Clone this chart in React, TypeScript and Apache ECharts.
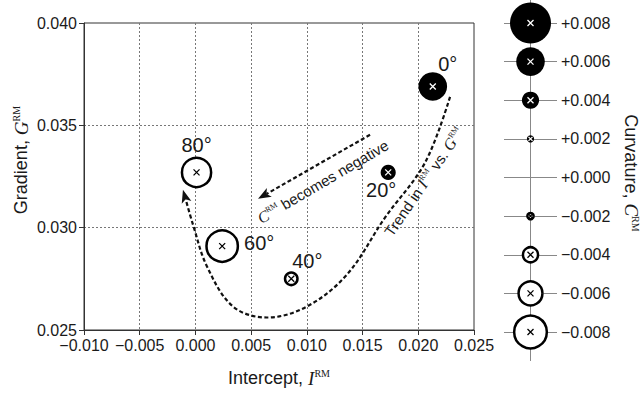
import React, { useEffect, useRef } from 'react';
import * as echarts from 'echarts';

// ---------------- data ----------------
const angles = ['0°', '20°', '40°', '60°', '80°'];
const intercepts = [0.0213, 0.0173, 0.0086, 0.0024, 0.0001];
const gradients = [0.0369, 0.0327, 0.0275, 0.0291, 0.0327];
const curvatures = [0.006, 0.0036, -0.0034, -0.0077, -0.0072];

const legendCurvatures = [0.008, 0.006, 0.004, 0.002, 0, -0.002, -0.004, -0.006, -0.008];
const legendLineSpan = [0.0092, -0.0095];

const xMin = -0.01, xMax = 0.025, xStep = 0.005;
const yMin = 0.025, yMax = 0.04, yStep = 0.005;

// annotation paths (data coordinates)
const trendPath = [
  [0.02285, 0.03639], [0.0206, 0.03317], [0.01701, 0.03049], [0.0136, 0.02771],
  [0.01001, 0.02615], [0.00642, 0.02561], [0.00337, 0.02615], [0.00104, 0.0281],
  [-0.00022, 0.03015], [-0.00112, 0.03185],
];
const negArrow = [[0.01567, 0.03454], [0.00562, 0.03141]];
const negTextAt = [0.01145, 0.03225];
const trendTextAt = [0.02051, 0.03224];

// ---------------- styles ----------------
const FONT = '"Liberation Sans", Arial, sans-serif';
const SERIF = '"Liberation Serif", "Times New Roman", serif';
const INK = '#1a1a1a';
const labelOffsets = [[15, -22], [-7, 18], [16, -18], [37, -3], [0, -27]];
const CROSS = 'path://M0,0L10,10M10,0L0,10';

const sizeOf = (c: number) =>
  c > 0 ? 41 * Math.pow(c / 0.008, 1.25) : c < 0 ? 4400 * -c - 2.5 : 0;
const crossSize = (c: number) => (Math.abs(c) <= 0.0025 ? 4 : 6);
const circleStyle = (c: number) =>
  c > 0
    ? { color: '#000', borderWidth: 0, opacity: 1 }
    : { color: '#fff', borderColor: '#000', borderWidth: 2.5, opacity: 1 };
const crossStyle = (c: number) => ({
  color: 'rgba(0,0,0,0)', borderColor: c > 0 ? '#fff' : '#000', borderWidth: 1.3, opacity: 1,
});

const fmtPlain = (v: number) => (Math.abs(v) < 1e-9 ? '0.000' : (v < 0 ? '\u2212' : '') + Math.abs(v).toFixed(3));
const fmtSigned = (v: number) => (Math.abs(v) < 1e-9 ? '+0.000' : (v < 0 ? '\u2212' : '+') + Math.abs(v).toFixed(3));

const richBase = (size: number) => ({
  a: { fontSize: size, fontFamily: FONT, fill: INK },
  i: { fontSize: size + 1, fontFamily: SERIF, fontStyle: 'italic', fill: INK },
  s: { fontSize: Math.round(size * 0.55), fontFamily: SERIF, fill: INK, verticalAlign: 'top' },
});

function arrowHead(tip: number[], from: number[], len = 13, w = 5) {
  const ang = Math.atan2(tip[1] - from[1], tip[0] - from[0]);
  const dx = Math.cos(ang), dy = Math.sin(ang);
  const px = -dy, py = dx;
  const bx = tip[0] - len * dx, by = tip[1] - len * dy;
  const nx = tip[0] - len * 0.75 * dx, ny = tip[1] - len * 0.75 * dy;
  return {
    points: [tip, [bx + w * px, by + w * py], [nx, ny], [bx - w * px, by - w * py]],
    base: [nx, ny],
  };
}

function buildOption() {
  const pointData = angles.map((a, i) => ({
    name: a,
    value: [intercepts[i], gradients[i], curvatures[i]],
    itemStyle: circleStyle(curvatures[i]),
    label: { offset: labelOffsets[i] },
  }));
  const crossData = angles.map((a, i) => ({
    name: a,
    value: [intercepts[i], gradients[i], curvatures[i]],
    itemStyle: crossStyle(curvatures[i]),
  }));
  const legendData = legendCurvatures.map((c) => ({
    value: [0, c, c],
    itemStyle: circleStyle(c),
  }));
  const legendCross = legendCurvatures
    .filter((c) => c !== 0)
    .map((c) => ({ value: [0, c, c], itemStyle: crossStyle(c) }));

  const dash = { stroke: '#111', lineWidth: 2.2, lineDash: [4, 2.5], fill: null };

  return {
    animation: false,
    backgroundColor: '#fff',
    grid: [
      { left: 84, top: 23, width: 390, height: 307, show: true, borderColor: '#333', borderWidth: 1 },
      { left: 504, top: 23, width: 53, height: 309, show: false },
    ],
    xAxis: [
      {
        gridIndex: 0, type: 'value', min: xMin, max: xMax, interval: xStep,
        axisLine: { show: true, onZero: false, lineStyle: { color: '#333', width: 1 } },
        axisTick: { show: true, length: 5, lineStyle: { color: '#333' } },
        axisLabel: { formatter: fmtPlain, fontSize: 16, color: INK, fontFamily: FONT, margin: 7, showMinLabel: true, showMaxLabel: true },
        splitLine: { show: true, showMinLine: false, showMaxLine: false, lineStyle: { color: '#777', type: [2, 2], width: 1 } },
      },
      { gridIndex: 1, type: 'value', min: -1, max: 1, show: false },
    ],
    yAxis: [
      {
        gridIndex: 0, type: 'value', min: yMin, max: yMax, interval: yStep,
        axisLine: { show: true, onZero: false, lineStyle: { color: '#333', width: 1 } },
        axisTick: { show: true, length: 5, lineStyle: { color: '#333' } },
        axisLabel: { formatter: fmtPlain, fontSize: 16, color: INK, fontFamily: FONT, margin: 7, showMinLabel: true, showMaxLabel: true },
        splitLine: { show: true, showMinLine: false, showMaxLine: false, lineStyle: { color: '#777', type: [2, 2], width: 1 } },
      },
      {
        gridIndex: 1, type: 'value', min: -0.008, max: 0.008, interval: 0.002, position: 'right',
        axisLine: { show: false }, axisTick: { show: false },
        axisLabel: { formatter: fmtSigned, fontSize: 16, color: INK, fontFamily: FONT, margin: 4, showMinLabel: true, showMaxLabel: true },
        splitLine: { show: true, lineStyle: { color: '#888', width: 1, type: 'solid' } },
      },
    ],
    series: [
      {
        type: 'custom', xAxisIndex: 0, yAxisIndex: 0, silent: true, z: 2,
        data: [[0.01, 0.03]],
        renderItem: (_p: any, api: any) => {
          const pts = trendPath.map((p) => api.coord(p));
          const tip = pts[pts.length - 1];
          const h1 = arrowHead(tip, pts[pts.length - 2]);
          const curve = pts.slice(0, -1).concat([h1.base]);
          const s = api.coord(negArrow[0]);
          const e = api.coord(negArrow[1]);
          const h2 = arrowHead(e, s);
          const t1 = api.coord(negTextAt);
          const t2 = api.coord(trendTextAt);
          return {
            type: 'group',
            children: [
              { type: 'polyline', shape: { points: curve, smooth: 0.35 }, style: dash },
              { type: 'polygon', shape: { points: h1.points }, style: { fill: '#111' } },
              { type: 'line', shape: { x1: s[0], y1: s[1], x2: h2.base[0], y2: h2.base[1] }, style: dash },
              { type: 'polygon', shape: { points: h2.points }, style: { fill: '#111' } },
              {
                type: 'text', x: t1[0], y: t1[1], rotation: (30.5 * Math.PI) / 180,
                style: {
                  text: '{i|C}{s|RM}{a| becomes negative}', rich: richBase(15),
                  align: 'center', verticalAlign: 'middle', fill: INK,
                },
              },
              {
                type: 'text', x: t2[0], y: t2[1], rotation: (55.5 * Math.PI) / 180,
                style: {
                  text: '{a|Trend in }{i|I}{s|RM}{a| vs. }{i|G}{s|RM}', rich: richBase(15),
                  align: 'center', verticalAlign: 'middle', fill: INK,
                },
              },
            ],
          };
        },
      },
      {
        type: 'scatter', xAxisIndex: 0, yAxisIndex: 0, z: 3, silent: true,
        symbol: 'circle', symbolSize: (v: number[]) => sizeOf(v[2]),
        itemStyle: { opacity: 1 },
        data: pointData,
        label: { show: true, position: 'inside', formatter: '{b}', fontSize: 20, color: INK, opacity: 1, fontFamily: FONT },
      },
      {
        type: 'scatter', xAxisIndex: 0, yAxisIndex: 0, z: 4, silent: true,
        symbol: CROSS, symbolSize: (v: number[]) => crossSize(v[2]),
        itemStyle: { opacity: 1 },
        data: crossData,
      },
      {
        type: 'custom', xAxisIndex: 1, yAxisIndex: 1, silent: true, z: 2,
        data: [[0, 0]],
        renderItem: (_p: any, api: any) => {
          const a = api.coord([0, legendLineSpan[0]]);
          const b = api.coord([0, legendLineSpan[1]]);
          return { type: 'line', shape: { x1: a[0], y1: a[1], x2: b[0], y2: b[1] }, style: { stroke: '#888', lineWidth: 1 } };
        },
      },
      {
        type: 'scatter', xAxisIndex: 1, yAxisIndex: 1, z: 3, silent: true,
        symbol: 'circle', symbolSize: (v: number[]) => sizeOf(v[2]),
        itemStyle: { opacity: 1 },
        data: legendData,
      },
      {
        type: 'scatter', xAxisIndex: 1, yAxisIndex: 1, z: 4, silent: true,
        symbol: CROSS, symbolSize: (v: number[]) => crossSize(v[2]),
        itemStyle: { opacity: 1 },
        data: legendCross,
      },
    ],
    graphic: [
      {
        type: 'text', x: 279, y: 378,
        style: { text: '{a|Intercept, }{i|I}{s|RM}', rich: richBase(18), align: 'center', verticalAlign: 'middle', fill: INK },
      },
      {
        type: 'text', x: 21, y: 160, rotation: Math.PI / 2,
        style: { text: '{a|Gradient, }{i|G}{s|RM}', rich: richBase(18), align: 'center', verticalAlign: 'middle', fill: INK },
      },
      {
        type: 'text', x: 631, y: 173, rotation: -Math.PI / 2,
        style: { text: '{a|Curvature, }{i|C}{s|RM}', rich: richBase(18), align: 'center', verticalAlign: 'middle', fill: INK },
      },
    ],
  };
}

export default function App() {
  const ref = useRef<HTMLDivElement>(null);
  useEffect(() => {
    document.body.style.margin = '0';
    const chart = echarts.init(ref.current!, null, { renderer: 'svg' });
    chart.setOption(buildOption() as any);
    return () => chart.dispose();
  }, []);
  return <div ref={ref} style={{ position: 'absolute', left: 0, top: 0, width: 644, height: 395 }} />;
}
